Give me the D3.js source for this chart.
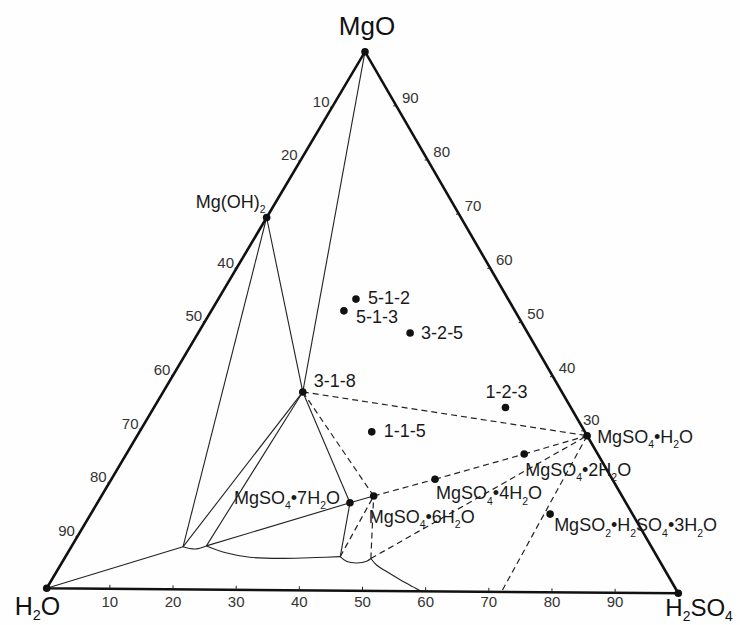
<!DOCTYPE html>
<html><head><meta charset="utf-8">
<script src="https://cdn.jsdelivr.net/npm/d3@7"></script>
<style>body{margin:0;background:#fff} svg{display:block;font-family:"Liberation Sans",Arial,sans-serif}</style>
</head><body><svg id="c" width="740" height="625"></svg>
<script>
// ---- DATA (wt%: [H2SO4, MgO]; H2O = remainder) ----
const bottomTicks = [10,20,30,40,50,60,70,80,90];   // H2SO4 %
const rightTicks  = [30,40,50,60,70,80,90];         // MgO %
const leftTicks   = [10,20,40,50,60,70,80,90];      // H2O %

const vertexNames = ["H2O","H2SO4","MgO"];
const vertexH2SO4 = [0, 100, 0];
const vertexMgO   = [0, 0, 100];

const phaseNames = ["Mg(OH)2","MgSO4•H2O","MgSO4•2H2O","MgSO4•4H2O","MgSO4•6H2O","MgSO4•7H2O","MgSO2•H2SO4•3H2O"];
const phaseH2SO4 = [0, 70.9, 62.7, 51.0, 42.9, 39.8, 72.4];
const phaseMgO   = [69.1, 29.1, 25.6, 20.8, 17.6, 16.3, 14.5];

const sampleNames = ["5-1-2","5-1-3","3-2-5","3-1-8","1-2-3","1-1-5"];
const sampleH2SO4 = [21.7, 20.9, 33.4, 22.0, 55.4, 36.6];
const sampleMgO   = [54.1, 51.9, 47.9, 36.8, 34.2, 29.5];

// invariant / boundary nodes
const nodeNames = ["A","B","C","D","E"];
const nodeH2SO4 = [17.6, 21.2, 43.3, 48.3, 72.0];
const nodeMgO   = [7.9, 8.1, 6.3, 6.0, 0];

// solubility curves
const curveAB_H2SO4 = [17.6, 19.7, 21.2];
const curveAB_MgO   = [7.9, 7.5, 8.1];
const curveBC_H2SO4 = [21.2, 25.1, 29.1, 34.5, 39.7, 43.3];
const curveBC_MgO   = [8.1, 6.8, 6.05, 5.9, 6.1, 6.3];
const curveCD_H2SO4 = [43.3, 44.8, 46.5, 47.9, 48.3];
const curveCD_MgO   = [6.3, 5.4, 5.15, 5.5, 6.0];
const curveDE_H2SO4 = [48.3, 49.8, 52.0, 54.9, 57.6, 59.3];
const curveDE_MgO   = [6.0, 4.8, 3.6, 2.1, 0.8, 0];

// tie lines (by name)
const solidLines = [["MgO","3-1-8"],["Mg(OH)2","3-1-8"],["Mg(OH)2","A"],["H2O","A"],["A","3-1-8"],
  ["B","3-1-8"],["B","MgSO4•7H2O"],["3-1-8","MgSO4•7H2O"],["MgSO4•7H2O","MgSO4•6H2O"],["C","MgSO4•7H2O"]];
const dashedLines = [["3-1-8","MgSO4•H2O"],["3-1-8","MgSO4•6H2O"],["MgSO4•6H2O","MgSO4•4H2O"],
  ["MgSO4•4H2O","MgSO4•2H2O"],["MgSO4•2H2O","MgSO4•H2O"],["C","MgSO4•6H2O"],["D","MgSO4•6H2O"],
  ["D","MgSO4•H2O"],["MgSO4•H2O","E"]];

// ---- LAYOUT ----
const Hv = [46.7, 588.3], Sv = [678.3, 593.3], Mv = [365, 51.7];
const frac = d3.scaleLinear().domain([0, 100]).range([0, 1]);
function P(s, m) {
  const a = frac(s), b = frac(m);
  return [Hv[0] + a*(Sv[0]-Hv[0]) + b*(Mv[0]-Hv[0]), Hv[1] + a*(Sv[1]-Hv[1]) + b*(Mv[1]-Hv[1])];
}
const pos = {};
vertexNames.forEach((n,i)=>pos[n]=P(vertexH2SO4[i], vertexMgO[i]));
phaseNames.forEach((n,i)=>pos[n]=P(phaseH2SO4[i], phaseMgO[i]));
sampleNames.forEach((n,i)=>pos[n]=P(sampleH2SO4[i], sampleMgO[i]));
nodeNames.forEach((n,i)=>pos[n]=P(nodeH2SO4[i], nodeMgO[i]));

const svg = d3.select("#c");
svg.append("rect").attr("width",740).attr("height",625).attr("fill","#fefefe");

function rich(sel, str, size, subShift) {
  const sh = subShift == null ? 0.3 : subShift;
  let prev = "";
  const parts = [];
  for (const ch of str) {
    const isSub = /[0-9]/.test(ch) && /[A-Za-z)]/.test(prev);
    if (parts.length && parts[parts.length-1].sub === isSub) parts[parts.length-1].t += ch;
    else parts.push({t: ch, sub: isSub});
    if (!isSub) prev = ch;
  }
  let shifted = 0;
  parts.forEach(p => {
    const ts = sel.append("tspan").text(p.t);
    if (p.sub) { ts.attr("font-size", size*0.58).attr("dy", size*sh - shifted); shifted = size*sh; }
    else { ts.attr("dy", -shifted); shifted = 0; }
  });
}

// lines
const lineGen = d3.line();
const curveGen = d3.line().curve(d3.curveCatmullRom.alpha(0.5));
const g = svg.append("g");
solidLines.forEach(([a,b]) => g.append("path").attr("d", lineGen([pos[a], pos[b]]))
  .attr("stroke","#222").attr("stroke-width",1.1).attr("fill","none"));
dashedLines.forEach(([a,b]) => g.append("path").attr("d", lineGen([pos[a], pos[b]]))
  .attr("stroke","#222").attr("stroke-width",1.2).attr("stroke-dasharray","6,4").attr("fill","none"));
[[curveAB_H2SO4,curveAB_MgO],[curveBC_H2SO4,curveBC_MgO],[curveCD_H2SO4,curveCD_MgO],[curveDE_H2SO4,curveDE_MgO]]
  .forEach(([sv,mv]) => g.append("path").attr("d", curveGen(sv.map((s,i)=>P(s, mv[i]))))
    .attr("stroke","#222").attr("stroke-width",1.1).attr("fill","none"));

// triangle
svg.append("path").attr("d", lineGen([pos.H2O, pos.H2SO4, pos.MgO]) + "Z")
  .attr("fill","none").attr("stroke","#111").attr("stroke-width",2.6).attr("stroke-linejoin","miter");

// ticks + labels
const tg = svg.append("g").attr("font-size",15).attr("fill","#333");
bottomTicks.forEach(v => {
  const p = P(v, 0);
  tg.append("line").attr("x1",p[0]).attr("y1",p[1]).attr("x2",p[0]).attr("y2",p[1]-4).attr("stroke","#222").attr("stroke-width",1);
  tg.append("text").attr("x",p[0]).attr("y",Hv[1]+13).attr("dy","0.35em").attr("text-anchor","middle").text(v);
});
leftTicks.forEach(v => {
  const p = P(0, 100 - v);
  tg.append("line").attr("x1",p[0]).attr("y1",p[1]).attr("x2",p[0]-3).attr("y2",p[1]+2).attr("stroke","#222").attr("stroke-width",1);
  tg.append("text").attr("x",p[0]-12).attr("y",p[1]-4).attr("dy","0.35em").attr("text-anchor","middle").text(v);
});
rightTicks.forEach(v => {
  const p = P(100 - v, v);
  const off = v === 30 ? [7,-11] : [14,-8.5];
  tg.append("line").attr("x1",p[0]).attr("y1",p[1]).attr("x2",p[0]-3).attr("y2",p[1]).attr("stroke","#222").attr("stroke-width",1);
  tg.append("text").attr("x",p[0]+off[0]).attr("y",p[1]+off[1]).attr("dy","0.35em").attr("text-anchor","middle").text(v);
});

// dots
const dots = svg.append("g").attr("fill","#111");
vertexNames.concat(phaseNames, sampleNames).forEach(n =>
  dots.append("circle").attr("cx",pos[n][0]).attr("cy",pos[n][1]).attr("r",3.8));

// vertex labels
const vlab = {"MgO":{dx:2,dy:-17,anchor:"middle",fs:26}, "H2O":{dx:-32,dy:27,anchor:"start",fs:25}, "H2SO4":{dx:-13,dy:23,anchor:"start",fs:24}};
vertexNames.forEach(n => {
  const o = vlab[n], p = pos[n];
  const t = svg.append("text").attr("x",p[0]+o.dx).attr("y",p[1]+o.dy).attr("font-size",o.fs)
    .attr("text-anchor",o.anchor).attr("fill","#111");
  rich(t, n, o.fs, 0.18);
});

// phase + sample labels
const lab = {
  "Mg(OH)2":[-1,-10,"end"], "MgSO4•H2O":[10,7,"start"], "MgSO4•2H2O":[1,22,"start"],
  "MgSO4•4H2O":[1,20,"start"], "MgSO4•6H2O":[-5,27,"start"], "MgSO4•7H2O":[-10,1,"end"],
  "MgSO2•H2SO4•3H2O":[4,17,"start"],
  "5-1-2":[12,5,"start"], "5-1-3":[12,12,"start"], "3-2-5":[11,6.5,"start"],
  "3-1-8":[11,-5,"start"], "1-2-3":[-20,-10,"start"], "1-1-5":[12,5,"start"]
};
phaseNames.concat(sampleNames).forEach(n => {
  const o = lab[n], p = pos[n];
  const t = svg.append("text").attr("x",p[0]+o[0]).attr("y",p[1]+o[1]).attr("font-size",18)
    .attr("text-anchor",o[2]).attr("fill","#1a1a1a");
  rich(t, n, 18);
});
</script></body></html>
